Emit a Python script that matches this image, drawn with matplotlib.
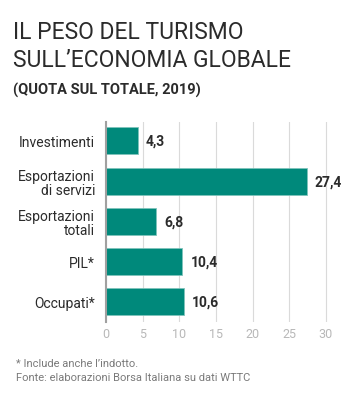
import matplotlib.pyplot as plt

plt.rcParams['font.family'] = ['Roboto', 'DejaVu Sans']

categories = ['Investimenti', 'Esportazioni\ndi servizi', 'Esportazioni\ntotali', 'PIL*', 'Occupati*']
values = [4.3, 27.4, 6.8, 10.4, 10.6]
value_labels = ['4,3', '27,4', '6,8', '10,4', '10,6']
xticks = [0, 5, 10, 15, 20, 25, 30]

bar_color = '#00897b'
dark = '#2b2b2b'

fig = plt.figure(figsize=(3.5, 4.02), dpi=100)
ax = fig.add_axes([0.303, 0.197, 0.649, 0.497])

pos = range(len(categories))
ax.barh(pos, values, height=0.67, color=bar_color, edgecolor='#7fc4bb', linewidth=0.6, zorder=3)
for p, v, lab in zip(pos, values, value_labels):
    ax.text(v + 1.1, p, lab, va='center', ha='left', fontsize=10, fontweight='bold', color=dark)

ax.set_xlim(0, 31)
ax.set_ylim(4.5, -0.47)
ax.set_xticks(xticks)
ax.set_yticks(list(pos))
ax.set_yticklabels(categories, fontsize=10, color=dark, linespacing=1.0)
ax.tick_params(axis='x', length=0, labelsize=9, labelcolor='#b8b8b8', pad=4)
ax.tick_params(axis='y', length=0, pad=8)
ax.grid(axis='x', color='#dadada', linewidth=0.8, zorder=0)
for s in ['top', 'right', 'bottom']:
    ax.spines[s].set_visible(False)
ax.spines['left'].set_color('#a0a0a0')
ax.spines['left'].set_linewidth(1.5)
ax.spines['left'].set_zorder(4)

fig.text(0.037, 0.948, 'IL PESO DEL TURISMO\nSULL\u2019ECONOMIA GLOBALE', fontsize=16.5, color=dark,
         va='top', ha='left', linespacing=1.3)
fig.text(0.037, 0.774, '(QUOTA SUL TOTALE, 2019)', fontsize=10.5, fontweight='bold', color=dark,
         va='center', ha='left')
fig.text(0.045, 0.077, '* Include anche l\u2019indotto.\nFonte: elaborazioni Borsa Italiana su dati WTTC',
         fontsize=8, color='#7a7a7a', va='center', ha='left', linespacing=1.6)

fig.savefig('out.png', dpi=100)
